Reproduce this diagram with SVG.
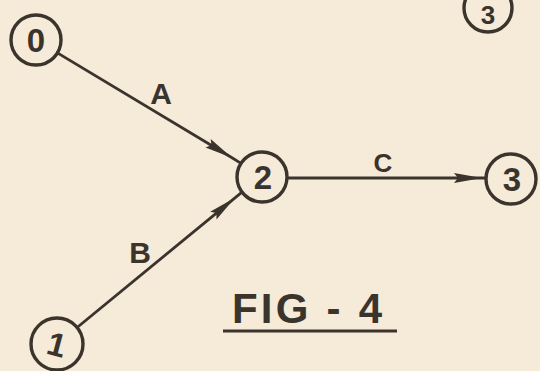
<svg xmlns="http://www.w3.org/2000/svg" width="540" height="371" viewBox="0 0 540 371">
  <style>
    .node circle { fill: none; stroke: #3a342d; stroke-width: 3.4; }
    .digit { font-family: "Liberation Sans", Arial, sans-serif; font-size: 33px; font-weight: bold; fill: #3a342d; text-anchor: middle; }
    .label { font-family: "Liberation Sans", Arial, sans-serif; font-size: 30px; font-weight: bold; fill: #3a342d; text-anchor: middle; }
    .edge { fill: none; stroke: #3a342d; stroke-width: 2.8; marker-mid: url(#arrow); }
    .title { font-family: "Liberation Sans", Arial, sans-serif; font-size: 42px; font-weight: bold; fill: #3a342d; }
  </style>
  <defs>
    <marker id="arrow" markerUnits="userSpaceOnUse" viewBox="-30 -6 32 12" refX="0" refY="0" markerWidth="32" markerHeight="12" orient="auto">
      <path d="M0,0 L-28,-5 L-24,0 L-28,5 Z" fill="#3a342d"/>
    </marker>
  </defs>
  <rect width="540" height="371" fill="#f6ead8"/>

  <g id="connectors">
    <path id="edge-A" class="edge" d="M57.4,52.9 L232,157.8 L240.6,163.1"/>
    <path id="edge-B" class="edge" d="M77.1,327.5 L235,197.8 L242.6,191.6"/>
    <path id="edge-C" class="edge" d="M288,178 L482,178 L486,178"/>
  </g>

  <g id="labels">
    <text class="label" x="161" y="104">A</text>
    <text class="label" x="140" y="263">B</text>
    <text class="label" x="383" y="172" style="font-size:26px">C</text>
  </g>

  <g id="node-0" class="node">
    <circle cx="36" cy="40" r="25"/>
    <text class="digit" x="36" y="52">0</text>
  </g>
  <g id="node-1" class="node">
    <circle cx="57" cy="344" r="26"/>
    <text class="digit" x="57" y="356" transform="rotate(15 57 344)">1</text>
  </g>
  <g id="node-2" class="node">
    <circle cx="262" cy="177" r="25"/>
    <text class="digit" x="263" y="189">2</text>
  </g>
  <g id="node-3" class="node">
    <circle cx="511" cy="179" r="25"/>
    <text class="digit" x="512" y="191">3</text>
  </g>
  <g id="node-3-top" class="node">
    <circle cx="488" cy="8" r="24"/>
    <text class="digit" x="488" y="24" style="font-size:26px">3</text>
  </g>

  <g id="caption">
    <text class="title" x="232" y="323" textLength="150" lengthAdjust="spacing">FIG - 4</text>
    <line x1="223" y1="331" x2="397" y2="331" stroke="#3a342d" stroke-width="3"/>
  </g>
</svg>
